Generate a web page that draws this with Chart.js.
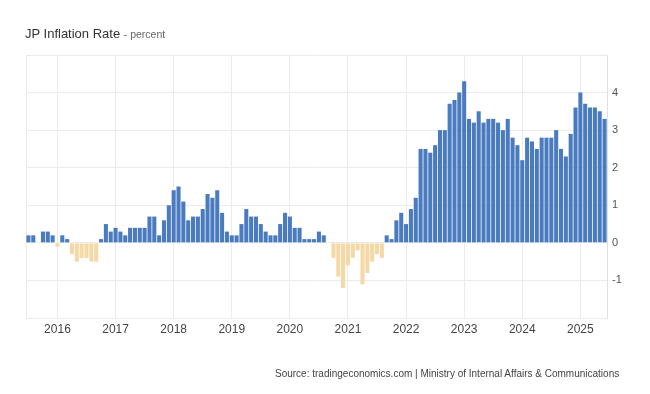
<!DOCTYPE html>
<html>
<head>
<meta charset="utf-8">
<script src="https://cdn.jsdelivr.net/npm/chart.js@4.4.1/dist/chart.umd.min.js"></script>
<style>
  body { margin: 0; background: #fff; }
  #wrap { position: relative; width: 650px; height: 394px; font-family: Arial, "Liberation Sans", sans-serif; }
  canvas { position: absolute; left: 0; top: 0; }
  #title { position: absolute; left: 25px; top: 27px; font-size: 13px; line-height: 14px; color: #333; }
  #title span { font-size: 10.5px; color: #666; }
  #source { position: absolute; left: 275px; top: 368px; font-size: 10px; line-height: 12px; color: #444; white-space: nowrap; }
</style>
</head>
<body>
<div id="wrap">
  <canvas id="chart" width="650" height="394"></canvas>
  <div id="title">JP Inflation Rate <span>- percent</span></div>
  <div id="source">Source: tradingeconomics.com | Ministry of Internal Affairs &amp; Communications</div>
</div>
<script>
// monthly YoY rates, Jul 2015 .. Jun 2025
const rate2015 = [0.2, 0.2, 0.0, 0.3, 0.3, 0.2]; // Jul-Dec
const rate2016 = [-0.1, 0.2, 0.1, -0.3, -0.5, -0.4, -0.4, -0.5, -0.5, 0.1, 0.5, 0.3];
const rate2017 = [0.4, 0.3, 0.2, 0.4, 0.4, 0.4, 0.4, 0.7, 0.7, 0.2, 0.6, 1.0];
const rate2018 = [1.4, 1.5, 1.1, 0.6, 0.7, 0.7, 0.9, 1.3, 1.2, 1.4, 0.8, 0.3];
const rate2019 = [0.2, 0.2, 0.5, 0.9, 0.7, 0.7, 0.5, 0.3, 0.2, 0.2, 0.5, 0.8];
const rate2020 = [0.7, 0.4, 0.4, 0.1, 0.1, 0.1, 0.3, 0.2, 0.0, -0.4, -0.9, -1.2];
const rate2021 = [-0.6, -0.4, -0.2, -1.1, -0.8, -0.5, -0.3, -0.4, 0.2, 0.1, 0.6, 0.8];
const rate2022 = [0.5, 0.9, 1.2, 2.5, 2.5, 2.4, 2.6, 3.0, 3.0, 3.7, 3.8, 4.0];
const rate2023 = [4.3, 3.3, 3.2, 3.5, 3.2, 3.3, 3.3, 3.2, 3.0, 3.3, 2.8, 2.6];
const rate2024 = [2.2, 2.8, 2.7, 2.5, 2.8, 2.8, 2.8, 3.0, 2.5, 2.3, 2.9, 3.6];
const rate2025 = [4.0, 3.7, 3.6, 3.6, 3.5, 3.3]; // Jan-Jun

const yearRates = [rate2015, rate2016, rate2017, rate2018, rate2019, rate2020,
                   rate2021, rate2022, rate2023, rate2024, rate2025];
const firstYear = 2015;
const firstMonth = 7;
const yTickLabels = [-1, 0, 1, 2, 3, 4];

// build month categories
const labels = [];
const values = [];
yearRates.forEach((arr, yi) => {
    const year = firstYear + yi;
    const startMonth = yi === 0 ? firstMonth : 1;
    arr.forEach((v, i) => {
        const m = startMonth + i;
        labels.push(`${year}-${String(m).padStart(2, '0')}`);
        values.push(v);
    });
});

const isJanuary = idx => labels[idx] && labels[idx].endsWith('-01');

const BLUE = '#4a7bbf';
const TAN = '#f5d8a5';
const GRID = '#ebebeb';

// light frame around the plot
const framePlugin = {
    id: 'frame',
    beforeDatasetsDraw(chart) {
        const { ctx, chartArea } = chart;
        ctx.save();
        ctx.strokeStyle = GRID;
        ctx.lineWidth = 1;
        ctx.beginPath();
        ctx.moveTo(chartArea.left + 0.5, chartArea.top);
        ctx.lineTo(chartArea.left + 0.5, chartArea.bottom);
        ctx.stroke();
        ctx.restore();
    }
};

new Chart(document.getElementById('chart'), {
    type: 'bar',
    data: {
        labels: labels,
        datasets: [{
            data: values,
            backgroundColor: values.map(v => v < 0 ? TAN : BLUE),
            borderWidth: 0,
            barPercentage: 0.84,
            categoryPercentage: 1
        }]
    },
    options: {
        responsive: false,
        animation: false,
        layout: { padding: { left: 26, top: 55, right: 0, bottom: 52 } },
        plugins: {
            legend: { display: false },
            tooltip: { enabled: false }
        },
        scales: {
            x: {
                grid: {
                    offset: false,
                    drawTicks: false,
                    color: ctx => isJanuary(ctx.index) ? GRID : 'rgba(0,0,0,0)'
                },
                border: { display: false },
                ticks: {
                    autoSkip: false,
                    maxRotation: 0,
                    minRotation: 0,
                    padding: 4,
                    color: '#444',
                    font: { family: 'Arial, "Liberation Sans", sans-serif', size: 12 },
                    callback: (val, idx) => isJanuary(idx) ? labels[idx].slice(0, 4) : ''
                },
                afterFit: scale => { scale.height = 24; }
            },
            y: {
                position: 'right',
                min: -2,
                max: 5,
                grid: { color: GRID, drawTicks: false },
                border: { display: true, color: '#e0e0e0' },
                ticks: {
                    stepSize: 1,
                    padding: 5,
                    color: '#555',
                    font: { family: 'Arial, "Liberation Sans", sans-serif', size: 11 },
                    callback: v => yTickLabels.includes(v) ? String(v) : ''
                },
                afterFit: scale => { scale.width = 43; }
            }
        }
    },
    plugins: [framePlugin]
});
</script>
</body>
</html>
